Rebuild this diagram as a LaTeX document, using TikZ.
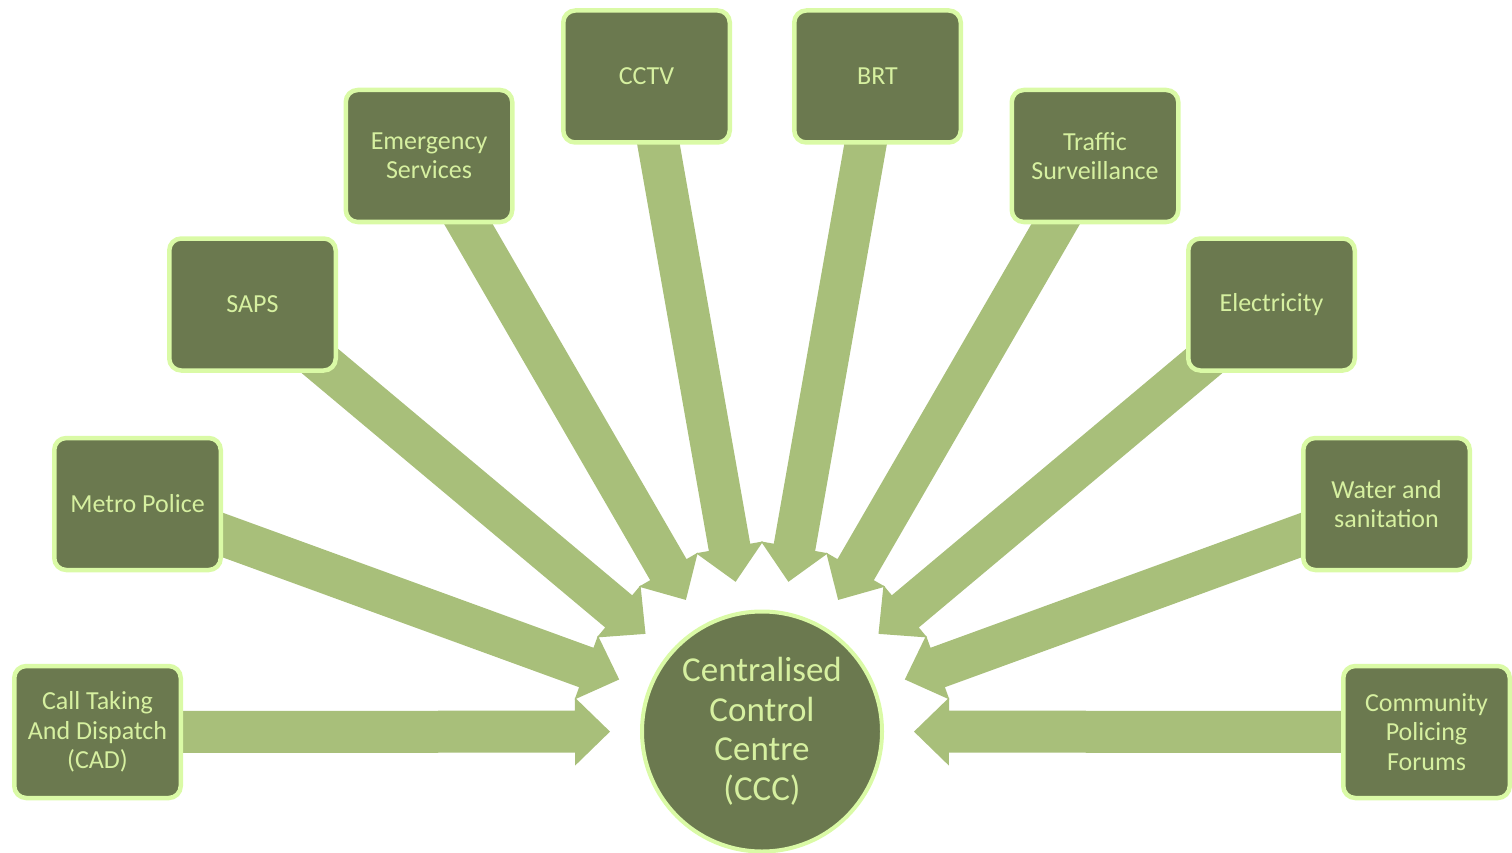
\documentclass[tikz,border=0pt]{standalone}
\usepackage{fontspec}
\setmainfont{Carlito}
\usetikzlibrary{calc,backgrounds}

\definecolor{boxfill}{RGB}{107,121,79}
\definecolor{boxedge}{RGB}{218,250,166}
\definecolor{boxtext}{RGB}{214,240,160}
\definecolor{arrowfill}{RGB}{168,191,122}

\tikzset{
  unit/.style={draw=boxedge, fill=boxfill, line width=4.5pt, rounded corners=12pt,
    minimum width=166.5pt, minimum height=132pt, inner sep=0pt, align=center,
    text=boxtext, font=\fontsize{26}{29.5}\selectfont},
  hub/.style={circle, draw=boxedge, fill=boxfill, line width=4pt, minimum size=240pt,
    inner sep=0pt, align=center, text=boxtext, font=\fontsize{35}{39.5}\selectfont},
  feed/.style={fill=arrowfill, draw=none}
}

\begin{document}
\begin{tikzpicture}[x=1pt,y=-1pt]
  \useasboundingbox (0,0) rectangle (1512,853);

  % central hub
  \node[hub] (ccc) at (762,731.5) {Centralised\\Control\\Centre\\(CCC)};

  % feeding units
  \node[unit] (cad)   at (97.5,732)   {Call Taking\\And Dispatch\\(CAD)};
  \node[unit] (metro) at (137.5,504)  {Metro Police};
  \node[unit] (saps)  at (252.5,304.5){SAPS};
  \node[unit] (emerg) at (429,156)    {Emergency\\Services};
  \node[unit] (cctv)  at (646.5,76.5) {CCTV};
  \node[unit] (brt)   at (877.5,76.5) {BRT};
  \node[unit] (traf)  at (1095,156)   {Traffic\\Surveillance};
  \node[unit] (elec)  at (1271.5,304.5){Electricity};
  \node[unit] (water) at (1386.5,504) {Water and\\sanitation};
  \node[unit] (cpf)   at (1426.5,732) {Community\\Policing\\Forums};

  % block arrows from every unit towards the hub
  \begin{scope}[on background layer]
    \foreach \b in {cad,metro,saps,emerg,cctv,brt,traf,elec,water,cpf}{
      \coordinate (t) at ($(ccc.center)!152pt!(\b.center)$);
      \coordinate (h) at ($(ccc.center)!187pt!(\b.center)$);
      \fill[feed] ($(\b.center)!21pt!90:(ccc.center)$)
        -- ($(h)!21pt!-90:(\b.center)$)
        -- ($(h)!34pt!-90:(\b.center)$)
        -- (t)
        -- ($(h)!34pt!90:(\b.center)$)
        -- ($(h)!21pt!90:(\b.center)$)
        -- ($(\b.center)!21pt!-90:(ccc.center)$)
        -- cycle;
    }
  \end{scope}
\end{tikzpicture}
\end{document}
